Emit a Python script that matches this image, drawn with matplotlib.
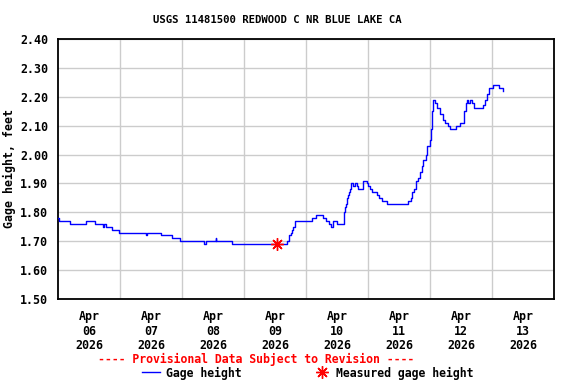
import matplotlib
matplotlib.use("Agg")
import matplotlib.pyplot as plt
from matplotlib.lines import Line2D

# Hours since 2026-04-06 00:00 and gage height (ft), breakpoints
hours = [0.0, 0.39, 4.65, 10.84, 14.32, 17.42, 17.81, 18.46, 20.79, 23.73,
         34.06, 34.45, 39.87, 44.25, 47.23, 56.52, 57.10, 61.05, 61.35, 67.24,
         88.76, 89.23, 89.61, 90.0, 90.58, 91.16, 91.74, 98.32, 99.87, 102.77,
         103.74, 104.90, 105.87, 106.45, 108.0, 110.44, 110.83, 111.2, 111.6, 111.87,
         112.26, 112.65, 113.03, 113.42, 114.3, 114.97, 115.63, 116.25, 117.95, 119.5,
         120.12, 120.77, 121.66, 123.37, 124.26, 125.42, 127.35, 135.6, 136.5, 137.15,
         138.0, 138.58, 139.35, 139.94, 140.71, 141.29, 142.26, 143.03, 143.81, 144.27,
         144.66, 145.05, 145.28, 145.94, 146.83, 147.87, 148.92, 149.81, 150.85, 151.74,
         154.06, 155.61, 157.28, 157.82, 158.2, 158.83, 159.48, 160.14, 161.14, 164.63,
         165.29, 166.18, 166.95, 168.27, 170.59, 172.14]
gage = [1.78, 1.77, 1.76, 1.77, 1.76, 1.75, 1.76, 1.75, 1.74, 1.73,
        1.72, 1.73, 1.72, 1.71, 1.70, 1.69, 1.70, 1.71, 1.70, 1.69,
        1.70, 1.71, 1.72, 1.73, 1.74, 1.75, 1.77, 1.78, 1.79, 1.78,
        1.77, 1.76, 1.75, 1.77, 1.76, 1.76, 1.80, 1.82, 1.83, 1.85,
        1.86, 1.87, 1.88, 1.90, 1.89, 1.90, 1.89, 1.88, 1.91, 1.90,
        1.89, 1.88, 1.87, 1.86, 1.85, 1.84, 1.83, 1.84, 1.85, 1.87,
        1.88, 1.91, 1.92, 1.94, 1.96, 1.98, 2.00, 2.03, 2.05, 2.09,
        2.15, 2.18, 2.19, 2.18, 2.16, 2.14, 2.12, 2.11, 2.10, 2.09,
        2.10, 2.11, 2.15, 2.18, 2.19, 2.18, 2.19, 2.18, 2.16, 2.17,
        2.19, 2.21, 2.23, 2.24, 2.23, 2.22]

measured_hours = [84.9]
measured_gage = [1.69]

day_labels = ["Apr\n06\n2026", "Apr\n07\n2026", "Apr\n08\n2026", "Apr\n09\n2026",
              "Apr\n10\n2026", "Apr\n11\n2026", "Apr\n12\n2026", "Apr\n13\n2026"]
y_ticks = [1.50, 1.60, 1.70, 1.80, 1.90, 2.00, 2.10, 2.20, 2.30, 2.40]

title = "USGS 11481500 REDWOOD C NR BLUE LAKE CA"

FONT = "DejaVu Sans Mono"
fig = plt.figure(figsize=(5.76, 3.84), dpi=100)
ax = fig.add_axes([58/576, 1-299/384, 496/576, 260/384])

ax.plot(hours, gage, color="#0000ff", lw=1.0, drawstyle="steps-post", zorder=3)
ax.plot(measured_hours, measured_gage, linestyle="none", marker=(8, 2, 0),
        color="#ff0000", markersize=9, markeredgewidth=1.0, zorder=4)

ax.set_xlim(0, 192)
ax.set_ylim(1.50, 2.40)
ax.set_yticks(y_ticks)
ax.set_yticklabels([f"{v:.2f}" for v in y_ticks], fontfamily=FONT,
                   fontweight="bold", fontsize=8.4)
ax.set_xticks([12 + 24*i for i in range(len(day_labels))])
ax.set_xticklabels(day_labels, fontfamily=FONT, fontweight="bold",
                   fontsize=8.4, linespacing=1.15)
ax.set_xticks([24*i for i in range(1, 8)], minor=True)
ax.tick_params(axis="both", which="both", length=0)
ax.tick_params(axis="y", pad=7)
ax.tick_params(axis="x", pad=8)
ax.grid(True, which="minor", axis="x", color="#cccccc", lw=1.0)
ax.grid(True, which="major", axis="y", color="#cccccc", lw=1.0)
for s in ax.spines.values():
    s.set_linewidth(1.3)
    s.set_color("black")

ax.set_ylabel("Gage height, feet", fontfamily=FONT, fontweight="bold",
              fontsize=8.4, labelpad=3)

fig.text(277/576, 1-20/384, title, ha="center", va="center",
         fontfamily=FONT, fontweight="bold", fontsize=7.7)
fig.text(256/576, 1-359/384, "---- Provisional Data Subject to Revision ----",
         ha="center", va="center", color="#ff0000",
         fontfamily=FONT, fontweight="bold", fontsize=8.3)

fig.add_artist(Line2D([142/576, 160/576], [1-372/384, 1-372/384],
                      color="#0000ff", lw=1.0))
fig.text(166/576, 1-373/384, "Gage height", ha="left", va="center",
         fontfamily=FONT, fontweight="bold", fontsize=8.3)
fig.add_artist(Line2D([322/576], [1-372/384], linestyle="none",
                      marker=(8, 2, 0), color="#ff0000", markersize=9,
                      markeredgewidth=1.0))
fig.text(336/576, 1-373/384, "Measured gage height", ha="left", va="center",
         fontfamily=FONT, fontweight="bold", fontsize=8.3)

fig.savefig("out.png", dpi=100)
